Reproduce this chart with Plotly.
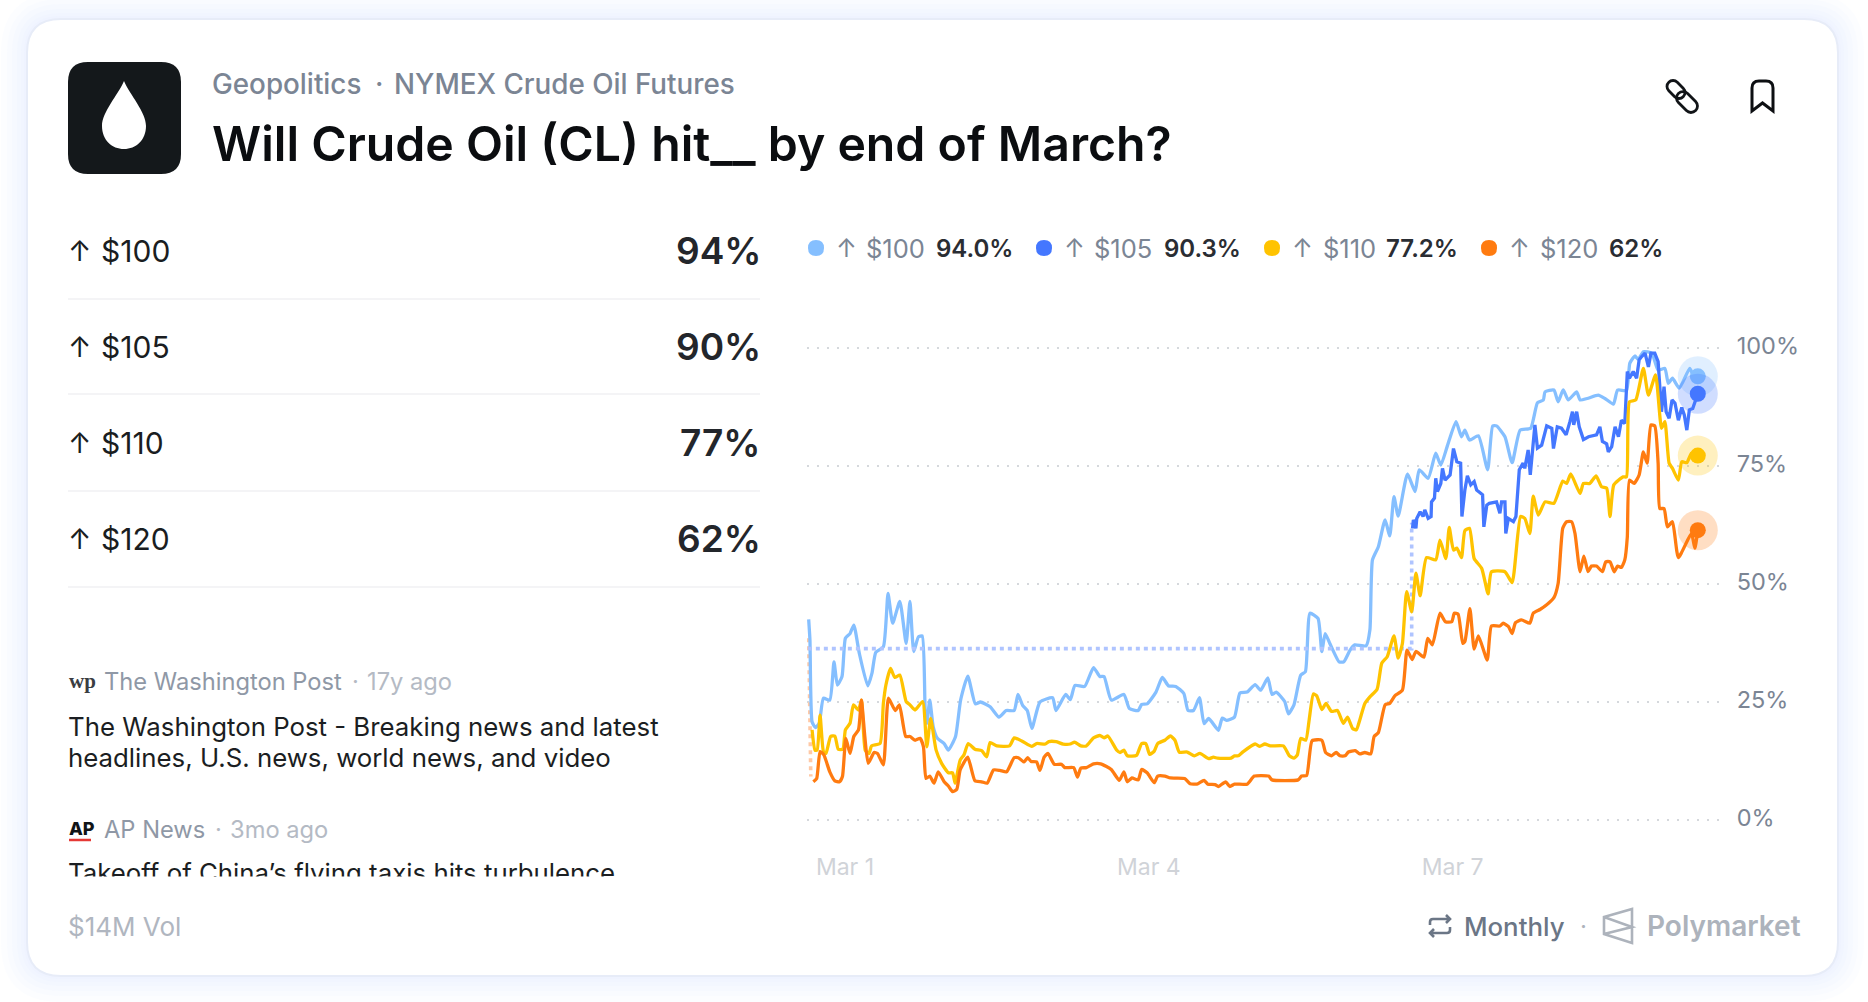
import plotly.graph_objects as go

# hours since Mar 1 00:00 and implied probability (%)
hours_100 = [-8.6, -8.3, -7.8, -7.0, -6.1, -5.1, -3.6, -2.6, -1.8, -0.7, 0.1, 1.2, 2.1, 3.4, 5.4, 6.4, 7.3, 9.1, 10.2, 11.3, 13.0, 14.5, 15.4, 16.3, 17.4, 18.3, 19.0, 19.4, 20.1, 20.9, 21.9, 23.5, 24.5, 26.2, 27.4, 29.1, 30.9, 32.1, 34.4, 36.5, 38.2, 40.1, 41.0, 42.1, 43.2, 44.3, 46.2, 49.2, 50.0, 52.3, 53.4, 54.5, 56.8, 58.9, 60.4, 61.4, 63.1, 66.1, 67.4, 69.5, 70.3, 71.6, 73.7, 75.2, 76.7, 78.4, 80.3, 81.3, 82.6, 84.0, 85.1, 86.2, 88.5, 89.4, 90.4, 92.3, 93.6, 95.3, 97.2, 98.5, 100.2, 101.2, 102.2, 104.2, 105.1, 106.4, 108.0, 109.1, 110.2, 112.1, 113.0, 113.8, 114.9, 117.1, 118.2, 119.7, 120.8, 123.5, 124.4, 125.0, 126.4, 128.0, 129.1, 130.1, 131.1, 133.3, 135.1, 136.1, 138.2, 140.0, 141.2, 142.7, 144.8, 146.1, 146.9, 148.0, 150.1, 152.3, 153.5, 154.4, 156.4, 158.1, 160.0, 162.5, 164.1, 165.5, 165.9, 168.0, 169.0, 170.2, 171.4, 173.4, 174.2, 175.9, 178.5, 180.1, 182.1, 183.1, 185.2, 186.0, 187.2, 188.0, 189.2, 191.2, 192.7, 194.3, 195.1, 196.1, 197.7, 200.2, 201.0, 202.1]
pct_100 = [42.5, 38.1, 20.8, 19.6, 20.5, 25.8, 25.4, 33.5, 28.6, 30.4, 38.5, 39.5, 41.3, 35.3, 28.4, 31.1, 35.5, 36.7, 48.0, 41.7, 46.3, 37.4, 46.3, 35.7, 38.8, 39.0, 23.3, 20.5, 25.4, 19.8, 17.3, 16.2, 14.8, 17.7, 25.4, 30.5, 24.6, 25.0, 24.0, 21.8, 23.2, 23.2, 26.6, 24.3, 23.2, 19.4, 25.0, 25.9, 23.2, 26.6, 25.5, 28.5, 28.3, 32.3, 30.4, 30.4, 25.4, 26.6, 23.6, 23.2, 24.5, 24.6, 27.1, 30.2, 28.4, 28.3, 26.8, 23.2, 23.2, 25.9, 20.4, 21.5, 19.0, 21.6, 21.1, 21.8, 26.9, 27.1, 28.7, 27.5, 30.1, 26.6, 27.1, 25.1, 22.5, 24.4, 30.7, 31.4, 43.8, 42.7, 35.7, 39.5, 37.4, 33.5, 33.5, 36.0, 37.1, 36.9, 40.3, 55.1, 57.9, 63.6, 60.2, 68.5, 64.4, 73.3, 69.6, 74.2, 72.4, 77.7, 75.2, 79.1, 84.4, 81.2, 82.6, 80.5, 81.4, 74.2, 83.5, 83.5, 81.2, 75.7, 82.6, 83.0, 88.4, 89.0, 90.7, 91.1, 88.6, 91.1, 89.0, 90.7, 89.0, 89.3, 90.0, 89.3, 88.1, 91.1, 91.0, 96.8, 98.3, 97.6, 99.2, 98.9, 95.3, 95.7, 92.5, 93.6, 91.5, 95.7, 94.3, 94.0]

# $105 has no trades until about Mar 6, the flat dotted part is the placeholder
flat_hours_105 = [-8.8, 134.3, 134.3]
flat_pct_105 = [36.3, 36.3, 63.0]
hours_105 = [134.5, 134.7, 135.3, 135.5, 136.3, 137.0, 137.4, 138.2, 138.9, 139.0, 139.7, 140.0, 140.4, 141.2, 141.6, 142.2, 143.4, 144.2, 145.0, 145.9, 146.2, 146.9, 147.5, 148.3, 149.1, 149.7, 151.1, 151.4, 152.1, 152.7, 154.4, 155.2, 155.6, 156.4, 156.6, 157.2, 158.4, 159.0, 159.8, 160.7, 161.1, 161.9, 162.4, 163.1, 163.5, 164.1, 165.1, 166.3, 167.5, 167.9, 168.8, 169.8, 170.9, 171.8, 172.4, 172.7, 173.4, 174.0, 175.0, 176.2, 178.1, 178.9, 179.5, 180.5, 180.9, 181.7, 182.5, 183.3, 184.0, 184.8, 185.4, 185.9, 186.8, 187.6, 188.2, 188.8, 189.6, 190.4, 191.0, 191.9, 192.7, 193.1, 193.5, 194.1, 194.6, 195.3, 196.0, 196.7, 197.5, 198.3, 198.9, 199.5, 200.1, 200.9, 202.1]
pct_105 = [61.8, 63.6, 61.8, 63.9, 65.3, 64.3, 65.7, 63.9, 64.3, 67.4, 68.2, 72.4, 69.6, 71.3, 74.5, 72.0, 73.1, 78.7, 75.9, 75.6, 64.3, 69.9, 72.9, 71.0, 71.7, 69.9, 68.9, 62.1, 66.7, 67.1, 67.4, 65.0, 67.4, 67.4, 60.7, 63.9, 63.2, 64.3, 74.2, 75.6, 74.5, 78.4, 73.1, 79.8, 83.7, 78.8, 79.4, 83.5, 83.0, 78.7, 83.3, 83.0, 81.6, 84.4, 86.5, 83.7, 86.5, 83.3, 80.6, 81.2, 81.6, 83.3, 80.2, 79.7, 78.0, 79.1, 83.3, 81.2, 84.7, 84.0, 95.0, 93.6, 95.0, 93.6, 97.5, 98.2, 98.9, 96.0, 98.9, 98.9, 97.1, 91.8, 86.5, 91.8, 86.5, 85.1, 89.0, 88.3, 84.7, 87.4, 85.8, 82.6, 86.9, 87.2, 90.3]

hours_110 = [-7.8, -7.1, -6.6, -5.9, -5.1, -4.5, -3.4, -2.4, -1.6, -0.5, 0.1, 1.2, 2.0, 3.2, 3.9, 4.8, 5.7, 6.3, 8.3, 9.1, 9.7, 10.8, 11.8, 13.0, 14.5, 15.4, 16.6, 18.4, 19.4, 20.3, 21.6, 22.9, 24.5, 25.5, 26.1, 27.3, 28.2, 29.2, 30.8, 32.4, 33.6, 34.4, 36.0, 39.0, 40.1, 42.0, 44.3, 45.4, 47.5, 48.3, 50.0, 51.7, 53.4, 54.4, 55.9, 57.2, 58.9, 60.4, 61.4, 62.3, 64.4, 65.2, 66.1, 66.9, 69.1, 70.3, 71.3, 72.2, 73.3, 74.1, 75.8, 77.1, 78.2, 79.2, 81.1, 82.8, 84.1, 86.2, 87.3, 88.3, 91.5, 92.3, 93.2, 94.4, 97.2, 98.3, 99.5, 100.8, 103.9, 105.3, 106.4, 107.2, 108.0, 109.2, 110.0, 111.0, 111.8, 113.0, 114.0, 115.3, 116.7, 118.1, 119.1, 120.3, 121.2, 122.0, 123.2, 124.4, 126.1, 127.2, 128.5, 130.1, 131.1, 132.1, 133.1, 134.3, 135.3, 136.3, 137.8, 140.0, 141.0, 142.4, 143.2, 144.2, 145.0, 146.1, 146.9, 148.0, 149.1, 150.9, 152.4, 153.2, 156.4, 158.1, 160.1, 161.1, 162.3, 163.1, 164.3, 165.9, 168.0, 170.1, 171.0, 172.0, 174.2, 175.0, 176.5, 178.0, 179.3, 180.5, 181.3, 182.2, 184.4, 185.2, 185.9, 187.4, 189.2, 190.4, 192.1, 193.5, 194.3, 195.3, 196.1, 197.5, 198.3, 199.5, 200.6, 202.1]
pct_110 = [19.1, 14.8, 14.8, 22.2, 14.5, 14.1, 17.7, 17.8, 15.0, 15.0, 19.1, 20.5, 24.4, 23.3, 25.4, 14.8, 14.1, 15.7, 16.2, 24.7, 28.6, 32.1, 30.2, 30.7, 25.1, 24.4, 23.3, 25.1, 15.5, 21.5, 14.8, 12.0, 10.0, 10.0, 7.8, 12.7, 13.8, 16.2, 15.0, 14.7, 13.4, 16.4, 15.7, 15.7, 17.4, 16.7, 15.6, 16.2, 16.1, 16.6, 16.6, 16.1, 16.1, 16.5, 15.7, 15.7, 17.4, 17.9, 17.4, 17.8, 14.8, 14.3, 14.8, 13.6, 13.7, 16.2, 16.2, 13.9, 14.6, 16.2, 16.9, 17.8, 16.9, 14.4, 14.4, 13.6, 14.1, 13.0, 13.3, 13.1, 13.1, 13.6, 13.6, 14.5, 16.1, 15.6, 16.1, 15.7, 15.7, 13.6, 13.1, 13.8, 17.3, 16.9, 21.2, 26.7, 26.3, 23.4, 24.7, 23.0, 23.2, 20.5, 21.8, 19.4, 19.1, 21.2, 24.7, 26.1, 27.7, 33.2, 34.6, 39.0, 34.3, 37.4, 48.4, 44.1, 52.3, 47.5, 55.6, 55.1, 59.3, 55.4, 62.0, 57.2, 57.6, 55.6, 61.3, 61.8, 55.4, 53.3, 47.9, 52.6, 52.6, 50.3, 64.3, 63.9, 60.7, 68.6, 64.6, 67.4, 67.1, 71.8, 71.3, 73.3, 69.2, 71.3, 71.3, 72.9, 70.6, 70.3, 64.3, 71.0, 72.7, 72.7, 88.6, 89.0, 95.7, 90.0, 94.3, 83.0, 84.4, 75.6, 74.5, 72.0, 75.9, 75.7, 77.7, 77.2]

flat_hours_120 = [-8.6, -8.1]
flat_pct_120 = [38.5, 9.2]
hours_120 = [-7.5, -6.7, -5.9, -5.0, -3.6, -2.4, -1.3, -0.6, 0.2, 1.2, 2.1, 3.2, 3.9, 4.7, 5.5, 6.9, 7.7, 9.1, 10.3, 11.9, 12.9, 14.4, 15.4, 16.6, 17.8, 18.6, 19.2, 20.1, 21.1, 22.1, 23.5, 24.5, 25.5, 26.5, 27.3, 29.1, 30.8, 32.4, 33.7, 35.2, 36.7, 38.3, 40.1, 41.1, 42.4, 43.3, 44.1, 45.4, 46.2, 47.2, 48.1, 49.6, 51.3, 52.1, 54.2, 55.1, 55.9, 57.2, 58.9, 60.6, 63.1, 65.0, 66.1, 66.9, 68.0, 69.5, 70.3, 71.6, 73.3, 74.1, 75.8, 77.1, 80.5, 81.8, 83.4, 85.1, 86.0, 87.7, 88.5, 90.2, 91.2, 92.3, 95.3, 97.0, 100.4, 101.2, 107.4, 108.2, 109.4, 110.7, 113.0, 113.9, 115.3, 116.4, 117.3, 118.5, 119.3, 120.9, 122.0, 123.2, 124.6, 125.4, 126.4, 128.0, 129.1, 130.3, 132.1, 133.2, 134.4, 135.3, 137.2, 138.1, 139.2, 141.0, 142.3, 143.8, 144.4, 145.3, 146.4, 146.9, 148.1, 149.1, 150.1, 152.2, 153.2, 155.2, 156.0, 157.2, 158.1, 158.9, 160.3, 162.3, 163.1, 164.7, 166.3, 168.0, 169.0, 170.1, 171.0, 172.2, 173.0, 174.2, 175.1, 176.1, 176.9, 178.1, 179.5, 180.3, 181.3, 182.3, 183.1, 184.0, 184.8, 185.4, 185.9, 187.0, 188.2, 189.2, 190.1, 191.0, 191.9, 192.7, 193.1, 194.1, 194.9, 196.1, 197.5, 200.6, 201.4, 202.1]
pct_120 = [8.1, 8.8, 14.5, 13.8, 10.2, 8.3, 8.1, 9.2, 17.3, 14.1, 17.7, 19.1, 25.4, 17.7, 12.0, 14.3, 14.1, 11.7, 25.8, 23.2, 24.4, 17.7, 17.7, 16.9, 17.3, 15.5, 8.8, 9.3, 7.8, 10.2, 8.1, 7.2, 6.0, 6.5, 10.6, 13.3, 8.3, 8.1, 7.8, 10.6, 10.5, 10.2, 13.2, 13.2, 12.3, 13.2, 12.4, 12.3, 10.5, 13.3, 14.1, 11.8, 11.8, 11.1, 11.1, 9.1, 11.0, 11.1, 11.9, 11.9, 10.7, 8.4, 10.2, 8.1, 8.9, 8.5, 10.7, 10.0, 7.9, 9.3, 9.3, 8.9, 8.8, 7.7, 7.6, 8.4, 7.6, 7.5, 7.1, 8.1, 7.1, 7.6, 7.6, 9.3, 9.3, 8.5, 8.5, 9.3, 9.4, 16.8, 16.9, 14.3, 13.6, 14.3, 13.6, 13.6, 14.4, 14.7, 14.0, 14.3, 14.0, 17.7, 18.5, 24.4, 24.7, 26.3, 27.5, 36.0, 34.0, 35.7, 34.5, 38.5, 37.1, 43.8, 42.0, 42.0, 43.8, 43.6, 37.4, 37.8, 44.8, 36.2, 39.0, 33.9, 41.1, 41.1, 41.7, 41.0, 39.5, 41.8, 42.4, 41.7, 43.8, 44.6, 45.6, 47.1, 50.1, 61.8, 63.2, 63.2, 60.7, 52.6, 55.9, 52.6, 53.8, 53.8, 52.6, 54.7, 54.7, 52.6, 53.8, 53.5, 55.1, 60.0, 72.0, 71.3, 73.1, 78.0, 75.6, 83.7, 83.5, 75.6, 66.0, 66.0, 62.1, 63.2, 55.6, 60.7, 57.6, 61.4]

strikes = ["$100", "$105", "$110", "$120"]
row_pcts = ["94%", "90%", "77%", "62%"]
legend_pcts = ["94.0%", "90.3%", "77.2%", "62%"]
colors = ["#85BFFF", "#4477FF", "#FFC300", "#FF7B10"]
x_ticks = [0, 72, 144]
x_labels = ["Mar 1", "Mar 4", "Mar 7"]
y_ticks = [0, 25, 50, 75, 100]
y_labels = ["0%", "25%", "50%", "75%", "100%"]

W, H = 1868, 1002
FONT = "Inter"
GREY = "#7B8594"

fig = go.Figure()
# first axis pair is only a pixel canvas for the card, texts and icons
fig.add_trace(go.Scatter(x=[0], y=[0], mode="none", xaxis="x", yaxis="y", hoverinfo="skip"))


def line(xs, ys, color, width=3.3, dash=None, shape="linear"):
    fig.add_trace(go.Scatter(x=xs, y=ys, mode="lines", xaxis="x2", yaxis="y2", hoverinfo="skip",
                             line=dict(color=color, width=width, dash=dash, shape=shape, smoothing=0.5)))


def end_dot(x, y, color):
    fig.add_trace(go.Scatter(x=[x], y=[y], mode="markers", xaxis="x2", yaxis="y2", hoverinfo="skip", cliponaxis=False,
                             marker=dict(size=40, color=color, opacity=0.25, line=dict(width=0))))
    fig.add_trace(go.Scatter(x=[x], y=[y], mode="markers", xaxis="x2", yaxis="y2", hoverinfo="skip", cliponaxis=False,
                             marker=dict(size=16, color=color, line=dict(width=0))))


line(flat_hours_120, flat_pct_120, "#FFC9A6", width=3.6, dash="4px,4px")
line(hours_100, pct_100, colors[0], shape="spline")
line(flat_hours_105, flat_pct_105, "#AFC4FF", width=3.6, dash="4px,4px")
line(hours_105, pct_105, colors[1])
line(hours_110, pct_110, colors[2], shape="spline")
line(hours_120, pct_120, colors[3], shape="spline")
end_dot(hours_100[-1], pct_100[-1], colors[0])
end_dot(hours_105[-1], pct_105[-1], colors[1])
end_dot(hours_110[-1], pct_110[-1], colors[2])
end_dot(hours_120[-1], pct_120[-1], colors[3])


def rounded(x0, y0, x1, y1, r):
    return (f"M{x0+r},{y0} H{x1-r} Q{x1},{y0} {x1},{y0+r} V{y1-r} Q{x1},{y1} {x1-r},{y1} "
            f"H{x0+r} Q{x0},{y1} {x0},{y1-r} V{y0+r} Q{x0},{y0} {x0+r},{y0} Z")


def pill(cx, cy, half, r):
    # stadium leaning 45 degrees, used for the two chain links
    d = 0.7071
    k = 0.5523 * r
    def p(a, b):
        # a along the pill, b across it
        return f"{cx + a*d + b*d:.1f},{cy + a*d - b*d:.1f}"
    return (f"M{p(-half, r)} L{p(half, r)} C{p(half+k, r)} {p(half+r, k)} {p(half+r, 0)} "
            f"C{p(half+r, -k)} {p(half+k, -r)} {p(half, -r)} L{p(-half, -r)} "
            f"C{p(-half-k, -r)} {p(-half-r, -k)} {p(-half-r, 0)} C{p(-half-r, k)} {p(-half-k, r)} {p(-half, r)} Z")


shapes = []


def path(d, fill="rgba(0,0,0,0)", stroke="rgba(0,0,0,0)", width=0):
    shapes.append(dict(type="path", path=d, xref="x", yref="y", layer="below", fillcolor=fill,
                       line=dict(color=stroke, width=width)))


# soft shadow, then the card
for e in [26, 20, 15, 10, 6, 3]:
    path(rounded(27 - e, 19 - e, 1838 + e, 976 + e, 34 + e), fill="rgba(226,233,252,0.09)")
path(rounded(27, 19, 1838, 976, 34), fill="white", stroke="#E7ECF8", width=2)

# oil icon
path(rounded(68, 62, 181, 174, 20), fill="#14181B")
path("M124,81 C118,95 102,112 102,126 C102,140 112,149 124,149 C136,149 146,140 146,126 C146,112 130,95 124,81 Z", fill="white")

# link and bookmark icons
path(pill(1676, 89.5, 4.2, 6), stroke="#111417", width=2.8)
path(pill(1687, 102, 5.6, 6.5), stroke="#111417", width=2.8)
path("M1752,111 V88 Q1752,81 1759,81 H1766 Q1773,81 1773,88 V111 L1762.5,103 Z", stroke="#0D0F12", width=3)

# row dividers
for y in [299, 394, 491, 587]:
    path(f"M68,{y} H760", stroke="#F0F1F3", width=1.5)

# legend dots
for x, c in zip([816, 1044, 1272, 1489], colors):
    path(rounded(x - 8, 240, x + 8, 256, 8), fill=c)

# AP underline
path("M69,840 H91", stroke="#E53935", width=2.5)

# repeat icon
path("M1430,925 V922 Q1430,919 1433,919 H1450 M1446,915 L1450,919 L1446,923", stroke="#6B7686", width=2.6)
path("M1450,927 V930 Q1450,933 1447,933 H1430 M1434,929 L1430,933 L1434,937", stroke="#6B7686", width=2.6)

# polymarket mark
path("M1604,917 L1632,909 V943 L1604,934 Z M1604,917 L1632,927 L1604,934", stroke="#ADB3BC", width=2.6)

annotations = []


def txt(x, y, s, size, color, weight=400, anchor="left", family=FONT):
    shift = -2 if anchor == "left" else 2
    annotations.append(dict(x=x, y=y, xref="x", yref="y", text=s, showarrow=False, xanchor=anchor, yanchor="middle",
                            xshift=shift, font=dict(family=family, size=size, color=color, weight=weight)))


txt(212, 84, "Geopolitics", 27.8, GREY, 500)
txt(375, 84, "·", 27.8, GREY, 500)
txt(394, 84, "NYMEX Crude Oil Futures", 27.8, GREY, 500)
txt(212, 143, "Will Crude Oil (CL) hit__ by end of March?", 48.2, "#0B0D10", 600)

for y, s, p in zip([251, 347, 443, 539], strikes, row_pcts):
    txt(68, y, "↑", 28, "#1A1D21")
    txt(101, y, s, 30, "#1A1D21")
    txt(761, y - 1, p, 37, "#23262B", 600, anchor="right")

for arrow_x, label_x, val_x, s, p in zip([846, 1074, 1302, 1519], [866, 1094, 1323, 1540],
                                         [936, 1164, 1386, 1609], strikes, legend_pcts):
    txt(arrow_x - 10, 248, "↑", 25, GREY)
    txt(label_x, 248, s, 25.5, GREY)
    txt(val_x, 248, p, 24, "#2A2D33", 600)

# news column
txt(69, 681, "wp", 21, "#3A3D42", 700, family="Liberation Serif")
txt(104, 681, "The Washington Post", 23.7, "#8F98A6")
txt(352, 681, "·", 23.7, "#B4BAC4")
txt(367, 681, "17y ago", 23.7, "#B4BAC4")
txt(68, 726, "The Washington Post - Breaking news and latest", 25.8, "#1B1E22")
txt(68, 757, "headlines, U.S. news, world news, and video", 25.8, "#1B1E22")
txt(69, 828, "AP", 18, "#111417", 800)
txt(104, 829, "AP News", 23.7, "#8F98A6")
txt(215, 829, "·", 23.7, "#B4BAC4")
txt(230, 829, "3mo ago", 23.7, "#B4BAC4")
txt(68, 872, "Takeoff of China’s flying taxis hits turbulence", 25.8, "#1B1E22")
# the headline list is cut off here
annotations.append(dict(x=60, y=876, xref="x", yref="y", text=" ", showarrow=False, xanchor="left", yanchor="top",
                        width=700, height=20, bgcolor="white", borderpad=0, font=dict(size=10)))

# footer
txt(68, 926, "$14M Vol", 26, "#B0B6C0")
txt(1464, 926, "Monthly", 25.8, "#6B7686", 500)
txt(1580, 926, "·", 24, "#ADB3BC")
txt(1647, 926, "Polymarket", 28, "#ADB3BC", 600)

# 0% sits at y=820 and 100% at y=348, the 2% of slack keeps both gridlines drawn
px_per_pct = (820 - 348) / 100
fig.update_layout(
    width=W, height=H, margin=dict(l=0, r=0, t=0, b=0, autoexpand=False), showlegend=False,
    paper_bgcolor="white", plot_bgcolor="rgba(0,0,0,0)", shapes=shapes, annotations=annotations,
    xaxis=dict(domain=[0, 1], range=[0, W], visible=False, fixedrange=True),
    yaxis=dict(domain=[0, 1], range=[H, 0], visible=False, fixedrange=True),
    xaxis2=dict(domain=[806.7 / W, 1721 / W], range=[-9.07, 207.6], anchor="y2", showgrid=False, zeroline=False,
                tickmode="array", tickvals=x_ticks, ticktext=x_labels, ticks="outside", ticklen=17,
                tickcolor="rgba(0,0,0,0)", tickfont=dict(family=FONT, size=23, color="#D0D3D8"), fixedrange=True),
    yaxis2=dict(domain=[1 - (820 + 2 * px_per_pct) / H, 1 - (348 - 2 * px_per_pct) / H], range=[-2, 102], anchor="x2",
                side="right", zeroline=False, tickmode="array", tickvals=y_ticks, ticktext=y_labels, ticks="outside",
                ticklen=10, tickcolor="rgba(0,0,0,0)", showgrid=True, gridcolor="#D5D8DC", gridwidth=2,
                griddash="2px,8px", ticklabelshift=-2, tickfont=dict(family=FONT, size=23.5, color=GREY), fixedrange=True),
)

fig.write_html("out.html", post_script="document.body.style.margin='0';", config={"displayModeBar": False})
